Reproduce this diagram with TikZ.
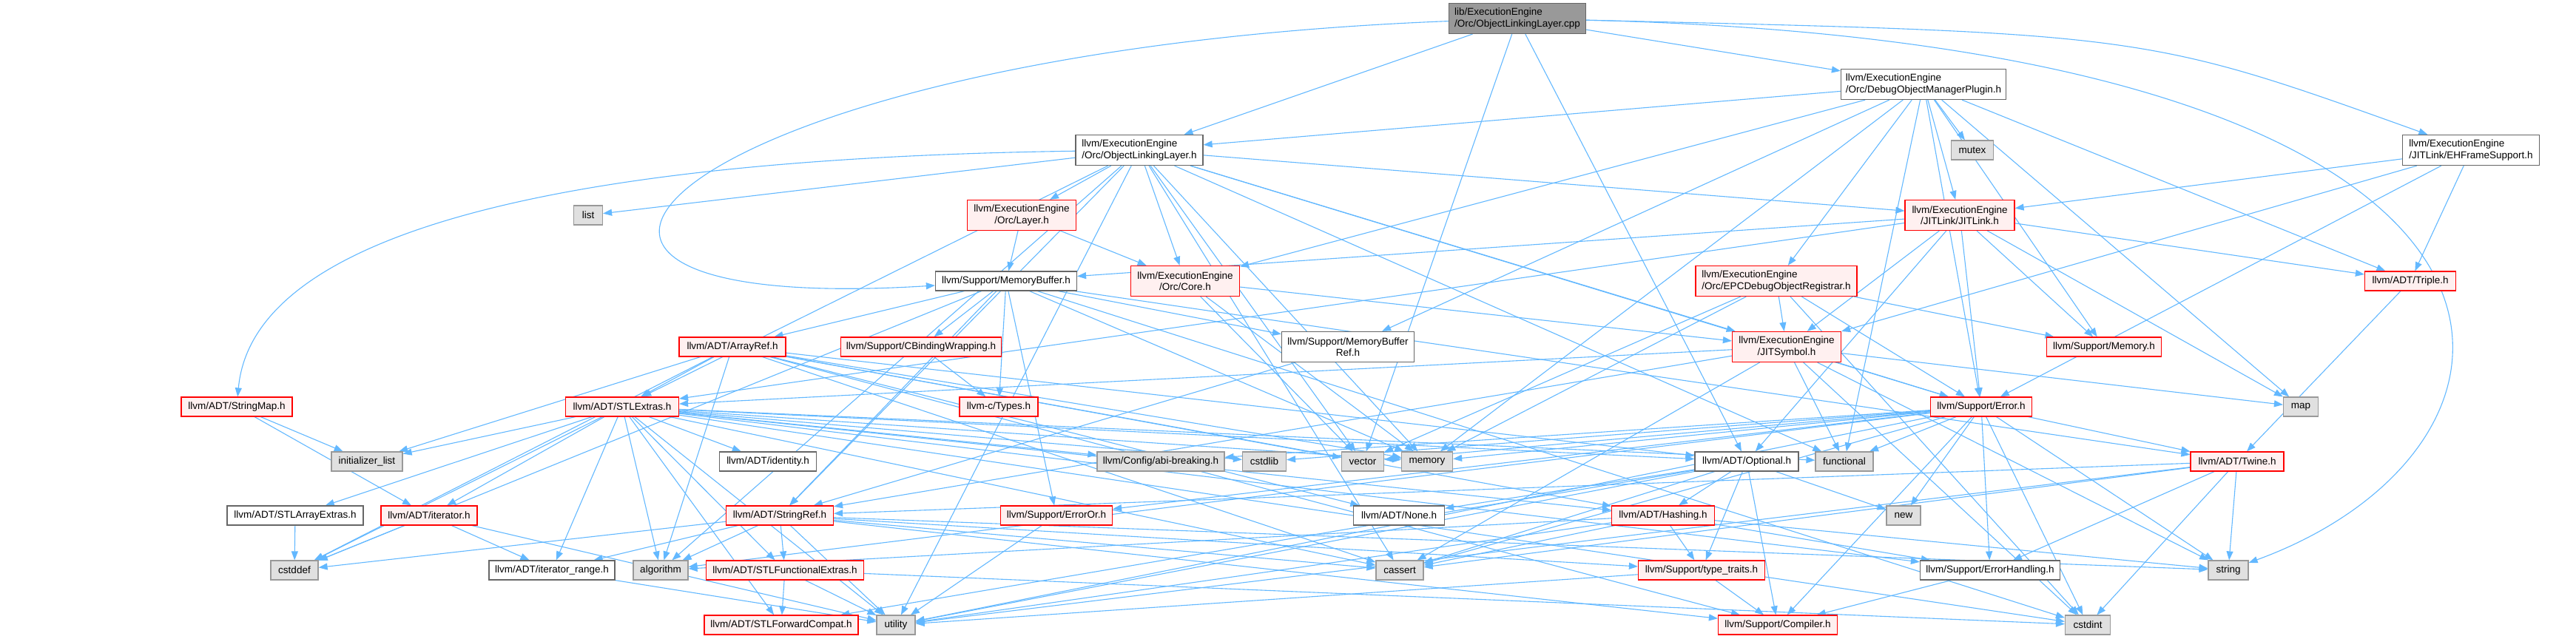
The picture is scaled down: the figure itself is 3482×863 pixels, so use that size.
\documentclass[tikz,border=0pt]{standalone}
\usepackage{fontspec}
\setmainfont{Liberation Sans}
\definecolor{depblue}{HTML}{63B8FF}
\definecolor{plainline}{HTML}{666666}
\definecolor{sysline}{HTML}{999999}
\definecolor{sysfill}{HTML}{E0E0E0}
\definecolor{truncline}{HTML}{FF0000}
\definecolor{truncfill}{HTML}{FFF0F0}
\definecolor{rootfill}{HTML}{999999}
\usetikzlibrary{arrows.meta}
\pgfdeclarelayer{edgelayer}
\pgfsetlayers{edgelayer,main}

\tikzset{
  box/.style={rectangle, line width=1.2pt, inner xsep=6pt, inner ysep=2pt,
    minimum height=26pt, text=black, font=\fontsize{13.5}{15.5}\selectfont},
  hdrbox/.style={box, draw=plainline, fill=white},
  truncbox/.style={box, draw=truncline, fill=truncfill},
  sysbox/.style={box, draw=sysline, fill=sysfill},
  rootbox/.style={box, draw=plainline, fill=rootfill},
  twoline/.style={minimum height=41pt},
  dep/.style={draw=depblue, line width=1.1pt, -{Triangle[length=12pt,width=9pt]}}
}

\begin{document}
\begin{tikzpicture}[x=1pt, y=-1pt]
  \useasboundingbox (0,0) rectangle (3482,863);

  % rank 0-4
  \node[rootbox, twoline, align=left, minimum width=185pt] (root) at (2051,25)
    {lib/ExecutionEngine\\/Orc/ObjectLinkingLayer.cpp};
  \node[hdrbox, twoline, align=left, minimum width=223pt] (domp) at (2600,114)
    {llvm/ExecutionEngine\\/Orc/DebugObjectManagerPlugin.h};
  \node[hdrbox, twoline, align=left, minimum width=172pt] (ollh) at (1540,203)
    {llvm/ExecutionEngine\\/Orc/ObjectLinkingLayer.h};
  \node[sysbox, minimum width=57pt] (mutex) at (2666,203) {mutex};
  \node[hdrbox, twoline, align=left, minimum width=185pt] (ehfs) at (3340,203)
    {llvm/ExecutionEngine\\/JITLink/EHFrameSupport.h};
  \node[sysbox, minimum width=39pt] (list) at (795,291) {list};
  \node[truncbox, twoline, align=center, minimum width=147pt] (layer) at (1381,291)
    {llvm/ExecutionEngine\\/Orc/Layer.h};
  \node[truncbox, twoline, align=center, minimum width=148pt] (jitlink) at (2649,291)
    {llvm/ExecutionEngine\\/JITLink/JITLink.h};
  \node[hdrbox, minimum width=191pt] (membuf) at (1360,380) {llvm/Support/MemoryBuffer.h};
  \node[truncbox, twoline, align=center, minimum width=147pt] (core) at (1602,380)
    {llvm/ExecutionEngine\\/Orc/Core.h};
  \node[truncbox, twoline, align=left, minimum width=218pt] (epcdor) at (2401,380)
    {llvm/ExecutionEngine\\/Orc/EPCDebugObjectRegistrar.h};
  \node[truncbox, minimum width=123pt] (triple) at (3258,380) {llvm/ADT/Triple.h};

  % rank 5-6
  \node[truncbox, minimum width=144pt] (arrayref) at (990,469) {llvm/ADT/ArrayRef.h};
  \node[truncbox, minimum width=217pt] (cbind) at (1245,469) {llvm/Support/CBindingWrapping.h};
  \node[hdrbox, twoline, align=center, minimum width=179pt] (mbref) at (1822,469)
    {llvm/Support/MemoryBuffer\\Ref.h};
  \node[truncbox, twoline, align=center, minimum width=147pt] (jitsym) at (2415,469)
    {llvm/ExecutionEngine\\/JITSymbol.h};
  \node[truncbox, minimum width=155pt] (memory) at (2844,469) {llvm/Support/Memory.h};
  \node[truncbox, minimum width=150pt] (strmap) at (320,550) {llvm/ADT/StringMap.h};
  \node[truncbox, minimum width=153pt] (stlext) at (841,550) {llvm/ADT/STLExtras.h};
  \node[truncbox, minimum width=106pt] (types) at (1350,550) {llvm-c/Types.h};
  \node[truncbox, minimum width=137pt] (error) at (2678,550) {llvm/Support/Error.h};
  \node[sysbox, minimum width=47pt] (map) at (3110,550) {map};

  % rank 7
  \node[sysbox, minimum width=96pt] (initlist) at (496,624) {initializer\_list};
  \node[hdrbox, minimum width=131pt] (identity) at (1038,624) {llvm/ADT/identity.h};
  \node[sysbox, minimum width=172pt] (abi) at (1569,624) {llvm/Config/abi-breaking.h};
  \node[sysbox, minimum width=59pt] (cstdlib) at (1709,624) {cstdlib};
  \node[sysbox, minimum width=57pt] (vector) at (1842,624) {vector};
  \node[sysbox, minimum width=69pt] (stdmem) at (1929,624) {memory};
  \node[hdrbox, minimum width=140pt] (optional) at (2361,624) {llvm/ADT/Optional.h};
  \node[sysbox, minimum width=78pt] (functional) at (2493,624) {functional};
  \node[truncbox, minimum width=126pt] (twine) at (3024,624) {llvm/ADT/Twine.h};

  % rank 8
  \node[hdrbox, minimum width=184pt] (stlarr) at (399,697) {llvm/ADT/STLArrayExtras.h};
  \node[truncbox, minimum width=130pt] (iterator) at (580,697) {llvm/ADT/iterator.h};
  \node[truncbox, minimum width=145pt] (strref) at (1054,697) {llvm/ADT/StringRef.h};
  \node[truncbox, minimum width=151pt] (erroror) at (1428,697) {llvm/Support/ErrorOr.h};
  \node[hdrbox, minimum width=123pt] (none) at (1891,697) {llvm/ADT/None.h};
  \node[truncbox, minimum width=139pt] (hashing) at (2248,697) {llvm/ADT/Hashing.h};
  \node[sysbox, minimum width=46pt] (new) at (2573,697) {new};

  % rank 9-10
  \node[sysbox, minimum width=64pt] (cstddef) at (398,771) {cstddef};
  \node[hdrbox, minimum width=170pt] (itrange) at (746,771) {llvm/ADT/iterator\_range.h};
  \node[sysbox, minimum width=74pt] (algorithm) at (893,771) {algorithm};
  \node[truncbox, minimum width=213pt] (stlfunc) at (1061,771) {llvm/ADT/STLFunctionalExtras.h};
  \node[sysbox, minimum width=64pt] (cassert) at (1892,771) {cassert};
  \node[truncbox, minimum width=171pt] (typetraits) at (2300,771) {llvm/Support/type\_traits.h};
  \node[hdrbox, minimum width=189pt] (errhand) at (2690,771) {llvm/Support/ErrorHandling.h};
  \node[sysbox, minimum width=54pt] (string) at (3012,771) {string};
  \node[truncbox, minimum width=208pt] (stlfwd) at (1056,845) {llvm/ADT/STLForwardCompat.h};
  \node[sysbox, minimum width=52pt] (utility) at (1211,845) {utility};
  \node[truncbox, minimum width=161pt] (compiler) at (2403,845) {llvm/Support/Compiler.h};
  \node[sysbox, minimum width=61pt] (cstdint) at (2822,845) {cstdint};

  \begin{pgfonlayer}{edgelayer}
    % root
    \foreach \t in {ollh,domp,optional,vector}
      \draw[dep] (root) -- (\t);
    \draw[dep] (root) .. controls (900,70) and (560,430) .. (membuf);
    \draw[dep] (root) .. controls (2900,45) .. (ehfs);
    \draw[dep] (root) .. controls (3520,60) and (3480,600) .. (string);
    % headers of the plugin and the layer
    \foreach \t in {ollh,mutex,jitlink,core,epcdor,triple,mbref,memory,error,map,functional,stdmem}
      \draw[dep] (domp) -- (\t);
    \foreach \t in {jitlink,triple,jitsym,error}
      \draw[dep] (ehfs) -- (\t);
    \foreach \t in {list,layer,jitlink,core,stlext,strref,jitsym,error,algorithm,cassert,functional,stdmem,utility,vector}
      \draw[dep] (ollh) -- (\t);
    \draw[dep] (ollh) .. controls (700,215) and (340,330) .. (strmap);
    \foreach \t in {membuf,core}
      \draw[dep] (layer) -- (\t);
    \foreach \t in {membuf,triple,jitsym,error,optional,memory,map,stlext}
      \draw[dep] (jitlink) -- (\t);
    \foreach \t in {arrayref,cbind,types,mbref,strref,twine,erroror,cstddef,cstdint,stdmem}
      \draw[dep] (membuf) -- (\t);
    \foreach \t in {jitsym,stdmem,vector}
      \draw[dep] (core) -- (\t);
    \foreach \t in {jitsym,error,memory,cstdint,stdmem,vector}
      \draw[dep] (epcdor) -- (\t);
    \draw[dep] (triple) -- (twine);
    % support and ADT headers
    \foreach \t in {stlext,initlist,cstddef,hashing,none,optional,compiler,algorithm,cassert,stdmem,vector}
      \draw[dep] (arrayref) -- (\t);
    \draw[dep] (cbind) -- (types);
    \draw[dep] (mbref) -- (strref);
    \foreach \t in {stlext,strref,error,functional,map,cassert,cstdint,string}
      \draw[dep] (jitsym) -- (\t);
    \foreach \t in {initlist,iterator}
      \draw[dep] (strmap) -- (\t);
    \foreach \t in {initlist,identity,abi,cstdlib,functional,optional,hashing,stlarr,iterator,itrange,algorithm,stlfunc,stlfwd,cassert,cstddef,cstdint,utility,stdmem,errhand}
      \draw[dep] (stlext) -- (\t);
    \foreach \t in {abi,cstdlib,vector,stdmem,functional,twine,compiler,errhand,erroror,algorithm,cassert,cstdint,new,string,utility}
      \draw[dep] (error) -- (\t);
    \foreach \t in {none,hashing,typetraits,compiler,cassert,new,utility,stlfwd}
      \draw[dep] (optional) -- (\t);
    \foreach \t in {strref,errhand,cassert,cstdint,string,utility}
      \draw[dep] (twine) -- (\t);
    \draw[dep] (stlarr) -- (cstddef);
    \foreach \t in {itrange,cstddef,utility}
      \draw[dep] (iterator) -- (\t);
    \foreach \t in {stlfunc,itrange,compiler,algorithm,cassert,cstddef,string,utility,typetraits}
      \draw[dep] (strref) -- (\t);
    \draw[dep] (erroror) -- (utility);
    \foreach \t in {typetraits,cassert,errhand,algorithm,string,utility}
      \draw[dep] (hashing) -- (\t);
    \draw[dep] (itrange) -- (utility);
    \foreach \t in {stlfwd,utility,cstdint}
      \draw[dep] (stlfunc) -- (\t);
    \foreach \t in {compiler,utility}
      \draw[dep] (typetraits) -- (\t);
    \draw[dep] (errhand) -- (compiler);
  \end{pgfonlayer}
\end{tikzpicture}
\end{document}
